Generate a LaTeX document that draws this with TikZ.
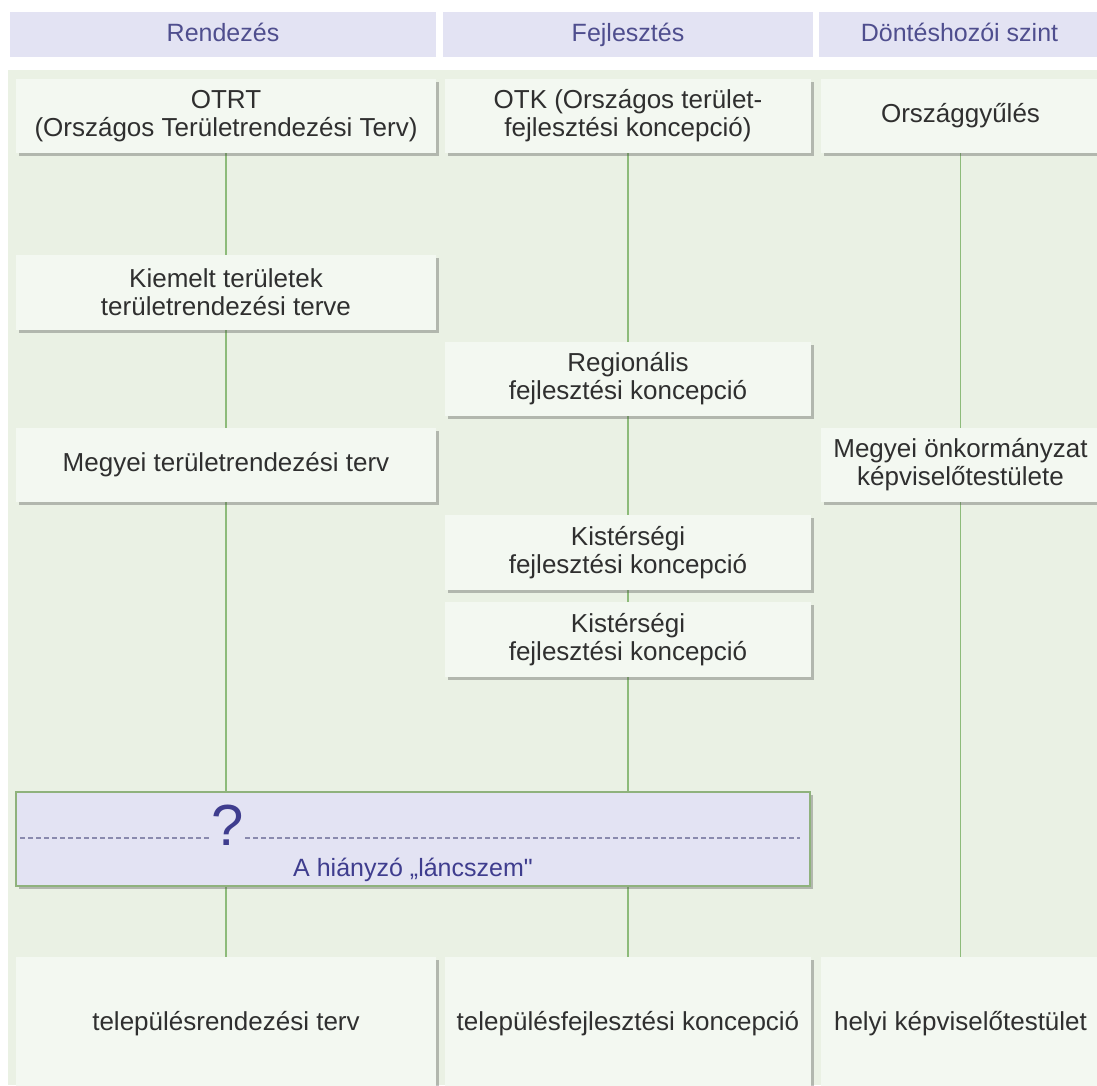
\documentclass[tikz,border=0pt]{standalone}
\usepackage{fontspec}
\setmainfont{Liberation Sans}
\newfontfamily\plainquote{Liberation Sans}
\usetikzlibrary{shadows,backgrounds}
\definecolor{bggreen}{HTML}{EAF1E4}
\definecolor{hdrfill}{HTML}{E3E3F3}
\definecolor{hdrtext}{HTML}{4F4E8E}
\definecolor{boxfill}{HTML}{F3F8F1}
\definecolor{boxtext}{HTML}{2F2F2F}
\definecolor{linegreen}{HTML}{8DBB7A}
\definecolor{qfill}{HTML}{E3E3F3}
\definecolor{qborder}{HTML}{8FB27C}
\definecolor{qtext}{HTML}{3F3D8E}
\definecolor{dashcol}{HTML}{8A8AAE}
\begin{document}
\begin{tikzpicture}[x=1pt,y=-1pt,
  hdr/.style={fill=hdrfill, text=hdrtext, inner sep=0pt, font=\fontsize{25}{27}\selectfont,
    minimum height=45pt, text height=18pt, text depth=5pt},
  box/.style={fill=boxfill, text=boxtext, inner sep=0pt, align=center,
    font=\fontsize{26}{28}\selectfont,
    drop shadow={shadow xshift=2.5pt, shadow yshift=-3pt, opacity=0.35, fill=black!70}},
  qbox/.style={fill=qfill, draw=qborder, line width=2pt, inner sep=0pt,
    drop shadow={shadow xshift=2.5pt, shadow yshift=-3pt, opacity=0.35, fill=black!70}},
  link/.style={draw=linegreen, line width=1.3pt},
  dashline/.style={draw=dashcol, line width=1.5pt, dash pattern=on 5pt off 3pt},
]
\useasboundingbox (0,0) rectangle (1097,1085);
% headers
\node[hdr, minimum width=426pt] (h1) at (223,34.5) {Rendezés};
\node[hdr, minimum width=370pt] (h2) at (628,34.5) {Fejlesztés};
\node[hdr, minimum width=281pt] (h3) at (959.5,34.5) {Döntéshozói szint};
% top row
\node[box, minimum width=420pt, minimum height=74pt] (otrt) at (226,116) {OTRT\\(Országos Területrendezési Terv)};
\node[box, minimum width=366pt, minimum height=74pt] (otk) at (628,116) {OTK (Országos terület-\\fejlesztési koncepció)};
\node[box, minimum width=279pt, minimum height=74pt] (orszgy) at (960.5,116) {Országgyűlés};
% middle
\node[box, minimum width=420pt, minimum height=75pt] (kiemelt) at (226,292.5) {Kiemelt területek\\területrendezési terve};
\node[box, minimum width=366pt, minimum height=74pt] (regio) at (628,379) {Regionális\\fejlesztési koncepció};
\node[box, minimum width=420pt, minimum height=74pt] (megyei) at (226,465) {Megyei területrendezési terv};
\node[box, minimum width=279pt, minimum height=74pt] (megyonk) at (960.5,465) {Megyei önkormányzat\\képviselőtestülete};
\node[box, minimum width=366pt, minimum height=75pt] (kist1) at (628,552.5) {Kistérségi\\fejlesztési koncepció};
\node[box, minimum width=366pt, minimum height=75pt] (kist2) at (628,639.5) {Kistérségi\\fejlesztési koncepció};
% missing link box
\node[qbox, minimum width=794pt, minimum height=94pt] (question) at (413,839) {};
\node[anchor=base, inner sep=0pt, text=qtext, font=\fontsize{58}{60}\selectfont] (qm) at (227.5,845) {?};
\coordinate (dl1) at (20,838);
\coordinate (dl2) at (209,838);
\coordinate (dr1) at (245,838);
\coordinate (dr2) at (800,838);
\draw[dashline] (dl1) -- (dl2);
\draw[dashline] (dr1) -- (dr2);
\node[anchor=base, inner sep=0pt, text=qtext, font=\fontsize{25}{27}\selectfont] (qlabel) at (413,876) {A hiányzó „láncszem{\plainquote"}};
% bottom row
\node[box, minimum width=420pt, minimum height=133pt] (bot1) at (226,1023.5) {településrendezési terv};
\node[box, minimum width=366pt, minimum height=133pt] (bot2) at (628,1023.5) {településfejlesztési koncepció};
\node[box, minimum width=279pt, minimum height=133pt] (bot3) at (960.5,1023.5) {helyi képviselőtestület};
% background and links
\begin{pgfonlayer}{background}
\fill[white] (0,0) rectangle (1097,1085);
\fill[bggreen] (8,70) rectangle (1097,1085);
\draw[link] (otrt.south) -- (kiemelt.north);
\draw[link] (kiemelt.south) -- (megyei.north);
\draw[link] (megyei.south) -- (megyei.south |- question.north);
\draw[link] (bot1.north |- question.south) -- (bot1.north);
\draw[link] (otk.south) -- (regio.north);
\draw[link] (regio.south) -- (kist1.north);
\draw[link] (kist1.south) -- (kist2.north);
\draw[link] (kist2.south) -- (kist2.south |- question.north);
\draw[link] (bot2.north |- question.south) -- (bot2.north);
\draw[link] (orszgy.south) -- (megyonk.north);
\draw[link] (megyonk.south) -- (bot3.north);
\end{pgfonlayer}
\end{tikzpicture}
\end{document}
